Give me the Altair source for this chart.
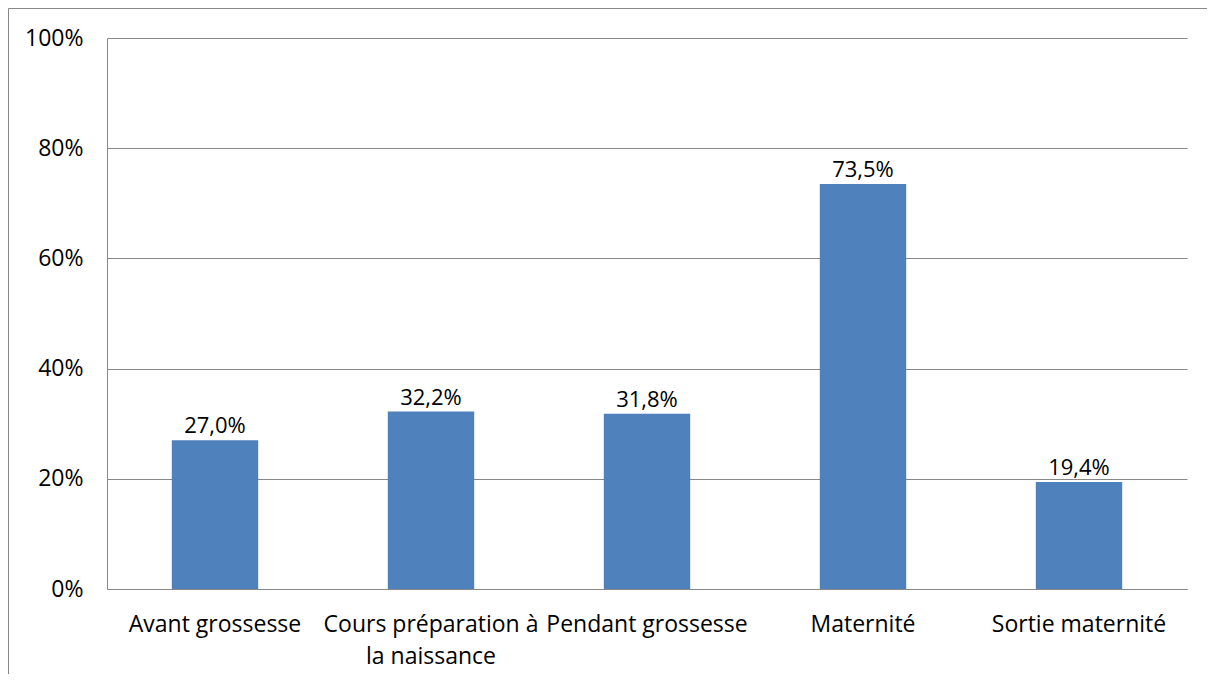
import altair as alt
import pandas as pd

categories = ["Avant grossesse", "Cours préparation à la naissance", "Pendant grossesse", "Maternité", "Sortie maternité"]
values = [27.0, 32.2, 31.8, 73.5, 19.4]
y_ticks = [0, 20, 40, 60, 80, 100]

df = pd.DataFrame({"cat": categories, "val": values})

FONT = "Open Sans"
GRID = "#888888"

x = alt.X("cat:N", sort=None, title=None,
          scale=alt.Scale(paddingInner=0.6, paddingOuter=0.3),
          axis=alt.Axis(labelAngle=0, labelFontSize=23, labelFont=FONT, labelColor="#000000",
                        labelPadding=24, tickSize=0, domainColor=GRID, domainWidth=1,
                        labelLimit=400, labelOverlap=False, labelLineHeight=32,
                        labelExpr="datum.label == 'Cours préparation à la naissance' ? ['Cours préparation à', 'la naissance'] : datum.label"))
y = alt.Y("val:Q", title=None,
          scale=alt.Scale(domain=[0, 100], nice=False),
          axis=alt.Axis(values=y_ticks, labelExpr="datum.value + '%'", labelFontSize=23,
                        labelFont=FONT, labelColor="#000000", labelPadding=24, tickSize=0,
                        gridColor=GRID, gridWidth=1, domainColor=GRID, domainWidth=1))

base = alt.Chart(df)
bars = base.mark_bar(color="#4F81BD").encode(x=x, y=y)
text = base.mark_text(dy=-7, baseline="alphabetic", fontSize=22, font=FONT, color="#000000").transform_calculate(
    lab="replace(format(datum.val, '.1f'), '.', ',') + '%'"
).encode(x=alt.X("cat:N", sort=None), y="val:Q", text="lab:N")

frame = alt.Chart(pd.DataFrame({"a": [0]})).mark_rect(fill=None, stroke=GRID, strokeWidth=1).encode(
    x=alt.value(-98.5), x2=alt.value(1400), y=alt.value(-29.5), y2=alt.value(900)
)

chart = alt.layer(frame, bars, text).properties(
    width=1080, height=551,
    autosize=alt.AutoSizeParams(type="none"),
    padding={"left": 99, "top": 30, "right": 20, "bottom": 85},
).configure_view(stroke=None).configure_axis(grid=True).configure_axisX(grid=False)

chart.save("out.html", embed_options={"renderer": "svg", "actions": False})
